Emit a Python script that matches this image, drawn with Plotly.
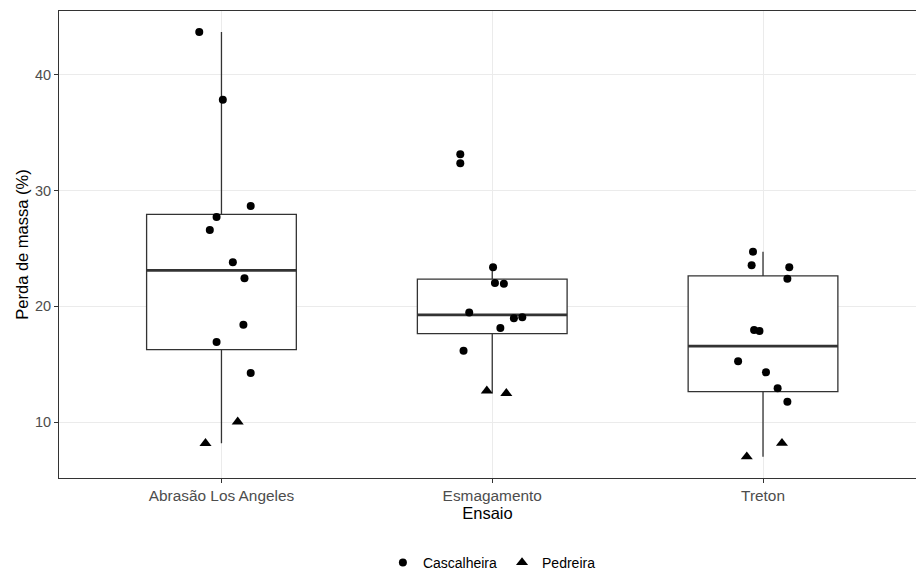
import numpy as np
import plotly.graph_objects as go

# ---------------- data ----------------
categories = ["Abrasão Los Angeles", "Esmagamento", "Treton"]
cat_pos = [1, 2, 3]

casc_vals = [
    [43.72, 37.86, 28.67, 27.72, 26.60, 23.81, 22.42, 18.41, 16.92, 14.24],
    [33.14, 32.37, 23.37, 22.02, 21.96, 19.46, 18.97, 19.05, 18.13, 16.17],
    [24.72, 23.55, 23.37, 22.39, 17.95, 17.87, 15.25, 14.30, 12.92, 11.76],
]
casc_jitter = [
    [-0.082, 0.005, 0.108, -0.018, -0.043, 0.042, 0.085, 0.081, -0.018, 0.108],
    [-0.118, -0.118, 0.003, 0.010, 0.043, -0.085, 0.080, 0.111, 0.030, -0.106],
    [-0.037, -0.042, 0.097, 0.090, -0.033, -0.013, -0.092, 0.011, 0.054, 0.090],
]
pedr_vals = [
    [10.02, 8.16],
    [12.70, 12.48],
    [8.17, 7.00],
]
pedr_jitter = [
    [0.060, -0.059],
    [-0.020, 0.052],
    [0.070, -0.060],
]

y_ticks = [10, 20, 30, 40]
box_width = 0.553

# ---------------- box statistics (ggplot style) ----------------
q1s, meds, q3s, lows, highs = [], [], [], [], []
for cv, pv in zip(casc_vals, pedr_vals):
    allv = np.array(cv + pv)
    q1, med, q3 = np.percentile(allv, [25, 50, 75])
    iqr = q3 - q1
    lo = allv[allv >= q1 - 1.5 * iqr].min()
    hi = allv[allv <= q3 + 1.5 * iqr].max()
    q1s.append(q1); meds.append(med); q3s.append(q3); lows.append(lo); highs.append(hi)

fig = go.Figure()

dark = "#333333"
for i, c in enumerate(cat_pos):
    fig.add_trace(go.Box(
        x=[c], q1=[q1s[i]], median=[meds[i]], q3=[q3s[i]],
        lowerfence=[lows[i]], upperfence=[highs[i]],
        width=box_width, whiskerwidth=0, boxpoints=False,
        fillcolor="white", line=dict(color=dark, width=1.3),
        showlegend=False, hoverinfo="skip",
    ))

# thick median lines
mx, my = [], []
for i, c in enumerate(cat_pos):
    mx += [c - box_width / 2, c + box_width / 2, None]
    my += [meds[i], meds[i], None]
fig.add_trace(go.Scatter(x=mx, y=my, mode="lines",
                         line=dict(color=dark, width=2.8),
                         showlegend=False, hoverinfo="skip"))

# points
cx, cy, px_, py_ = [], [], [], []
for i, c in enumerate(cat_pos):
    cx += [c + j for j in casc_jitter[i]]
    cy += casc_vals[i]
    px_ += [c + j for j in pedr_jitter[i]]
    py_ += pedr_vals[i]

fig.add_trace(go.Scatter(x=cx, y=cy, mode="markers", name="Cascalheira",
                         marker=dict(symbol="circle", size=8, color="black")))
fig.add_trace(go.Scatter(x=px_, y=py_, mode="markers", name="Pedreira",
                         marker=dict(symbol="triangle-up", size=10.5, color="black")))

font_family = "Liberation Sans, Arial, sans-serif"
fig.update_layout(
    width=916, height=572,
    margin=dict(l=59, r=0, t=11, b=94),
    paper_bgcolor="white", plot_bgcolor="white",
    font=dict(family=font_family, color="black"),
    showlegend=True,
    legend=dict(orientation="h", xref="container", yref="container",
                x=0.537, xanchor="center", y=0.016, yanchor="middle",
                font=dict(size=14, color="black"),
                itemsizing="trace", tracegroupgap=0),
    xaxis=dict(
        range=[0.4, 3.565], tickmode="array", tickvals=cat_pos, ticktext=categories,
        showgrid=True, gridcolor="#EBEBEB", gridwidth=1.2, zeroline=False,
        showline=True, mirror=True, linecolor=dark, linewidth=1,
        ticks="outside", ticklen=4, tickcolor=dark, tickwidth=1,
        tickfont=dict(size=15.4, color="#4D4D4D"),
        title=dict(text="Ensaio", font=dict(size=16.5, color="black"), standoff=2),
    ),
    yaxis=dict(
        range=[5.16, 45.53], tickmode="array", tickvals=y_ticks,
        showgrid=True, gridcolor="#EBEBEB", gridwidth=1.2, zeroline=False,
        showline=True, mirror=False, linecolor=dark, linewidth=1,
        ticks="outside", ticklen=4, tickcolor=dark, tickwidth=1,
        tickfont=dict(size=14.5, color="#4D4D4D"),
        title=dict(text="Perda de massa (%)", font=dict(size=16.5, color="black"), standoff=2),
    ),
)

fig.write_html("out.html")
